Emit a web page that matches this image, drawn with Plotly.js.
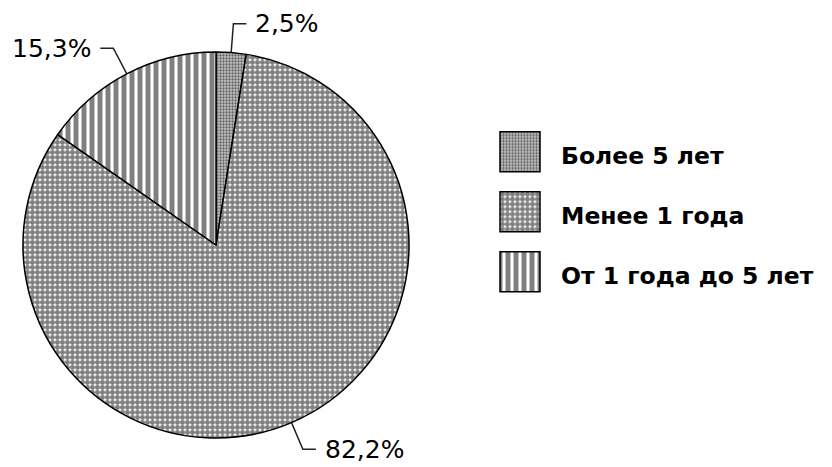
<!DOCTYPE html>
<html><head><meta charset="utf-8">
<script src="https://cdn.plot.ly/plotly-3.0.1.min.js"></script>
<style>html,body{margin:0;padding:0;background:#fff;overflow:hidden}</style>
</head><body><div id="chart" style="width:832px;height:467px"></div>
<script>
// ---- data ----
const categories = ['Более 5 лет', 'Менее 1 года', 'От 1 года до 5 лет'];
const shares = [2.5, 82.2, 15.3];
const shareLabels = shares.map(v => v.toFixed(1).replace('.', ',') + '%');

// ---- geometry / style ----
const W = 832, H = 467;
const cx = 216, cy = 245, R = 193;
const px = x => x / W;
const py = y => 1 - y / H;

const total = shares.reduce((a, b) => a + b, 0);
const shapes = [], annotations = [];
let cum = 0;
shares.forEach((v, i) => {
  const mid = (cum + v / 2) / total * 2 * Math.PI; cum += v;
  const s = Math.sin(mid), c = Math.cos(mid);
  const x0 = cx + R * s, y0 = cy - R * c;
  const x1 = cx + (R + 29) * s, y1 = cy - (R + 29) * c;
  const dir = s >= 0 ? 1 : -1;
  const x2 = x1 + 13 * dir;
  shapes.push({type: 'path', xref: 'paper', yref: 'paper',
    path: `M${px(x0)},${py(y0)} L${px(x1)},${py(y1)} L${px(x2)},${py(y1)}`,
    line: {color: '#222', width: 1.5}});
  annotations.push({xref: 'paper', yref: 'paper', x: px(x2 + dir * 7), y: py(y1),
    xanchor: dir > 0 ? 'left' : 'right', yanchor: 'middle', showarrow: false,
    text: shareLabels[i], font: {family: 'DejaVu Sans', size: 25, color: '#000'}});
});

const trace = {
  type: 'pie', labels: categories, values: shares, sort: false,
  direction: 'clockwise', rotation: 0, textinfo: 'none', hoverinfo: 'none',
  domain: {x: [px(cx - R), px(cx + R)], y: [py(cy + R), py(cy - R)]},
  marker: {
    colors: ['#c4c4c4', '#fff', '#fff'],
    line: {color: '#000', width: 1.5},
    pattern: {shape: ['.', '.', '|'], size: [3, 5, 8], solidity: [0.45, 0.78, 0.62],
      fgcolor: '#000', fillmode: 'overlay'}
  }
};

const layout = {
  width: W, height: H, margin: {l: 0, r: 0, t: 0, b: 0},
  paper_bgcolor: '#fff', plot_bgcolor: '#fff',
  showlegend: true,
  legend: {x: px(479), y: py(130), xanchor: 'left', yanchor: 'top',
    itemwidth: 72, bgcolor: 'rgba(0,0,0,0)',
    font: {family: 'DejaVu Sans', size: 23.5, color: '#000', weight: 'bold'}},
  shapes: shapes, annotations: annotations
};

Plotly.newPlot('chart', [trace], layout, {staticPlot: true}).then(gd => {
  const sb = gd.querySelector('.legend .scrollbox');
  if (sb) sb.removeAttribute('clip-path');
  const items = gd.querySelectorAll('.legend .traces');
  let base = null;
  items.forEach((g, i) => {
    const p = g.querySelector('path.legendpie');
    if (p) p.setAttribute('d', 'M20,20H-20V-20H20Z');
    const t = g.querySelector('text.legendtext');
    if (t) t.setAttribute('transform', 'translate(0,3)');
    const m = /translate\(([-\d.]+),\s*([-\d.]+)\)/.exec(g.getAttribute('transform') || '');
    if (m) {
      if (base === null) base = [parseFloat(m[1]), parseFloat(m[2])];
      g.setAttribute('transform', `translate(${base[0]},${base[1] + i * 60})`);
    }
  });
});
</script></body></html>
